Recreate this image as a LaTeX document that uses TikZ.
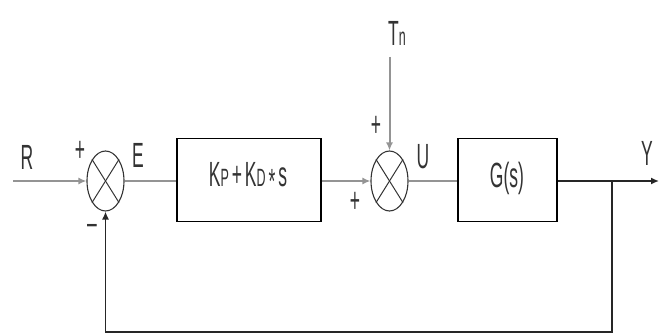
\documentclass[tikz,border=0pt]{standalone}
\usepackage{fontspec}
\usepackage{graphicx}
\setmainfont{Liberation Sans}
\usetikzlibrary{shapes.geometric,arrows.meta,calc}
\newcommand{\lbl}[1]{\scalebox{0.5}[1]{\fontsize{35}{35}\selectfont #1}}
\newcommand{\sml}[1]{{\fontsize{25}{25}\selectfont #1}}
\tikzset{
  sig/.style={line width=2pt,draw=black!42},
  fb/.style={line width=1.5pt,draw=black!85},
  tip/.style={-{Latex[length=8pt,width=7pt]}},
  sumnode/.style={ellipse,draw=black!80,line width=1.1pt,minimum width=37pt,minimum height=60pt,inner sep=0pt},
  blk/.style={rectangle,draw=black,line width=1.5pt,inner sep=0pt},
  txt/.style={text=black!80,inner sep=0pt},
  crossline/.style={draw=black!80,line width=1pt}
}
\begin{document}
\begin{tikzpicture}[x=1pt,y=-1pt]
\useasboundingbox (0,0) rectangle (659,334);
% summing junctions
\node[sumnode] (s1) at (105.5,181) {};
\node[sumnode] (s2) at (389.5,181) {};
\foreach \s in {s1,s2}{
  \draw[crossline] (\s.58) -- (\s.238);
  \draw[crossline] (\s.122) -- (\s.302);
}
% blocks
\node[blk,minimum width=144pt,minimum height=83pt] (b1) at (249,180) {};
\node[blk,minimum width=99pt,minimum height=83pt] (b2) at (507.5,180) {};
\node[txt] (t1) at (248,178) {\lbl{K\sml{P}\,+\,K\sml{D}\,\raisebox{-0.22em}{*}\,s}};
\node[txt] (t2) at (507,178) {\lbl{G(s)}};
% labels
\node[txt] (lR) at (27,157) {\lbl{R}};
\node[txt] (lE) at (138,155) {\lbl{E}};
\node[txt] (lU) at (423,157) {\lbl{U}};
\node[txt] (lY) at (647,153) {\lbl{Y}};
\node[txt] (lT) at (397,33) {\lbl{T\sml{n}}};
\node[txt] (p1) at (80,151) {\lbl{+}};
\node[txt] (m1) at (92,229) {\lbl{\textendash}};
\node[txt] (p2) at (376,126) {\lbl{+}};
\node[txt] (p3) at (355,202) {\lbl{+}};
% coordinates
\coordinate (rin) at (13,181);
\coordinate (tin) at (389.5,57);
\coordinate (br) at (612,181);
\coordinate (yout) at (659,181);
\coordinate (fbr) at (612,332);
\coordinate (fbl) at (105.5,332);
% signal lines
\draw[sig,tip] (rin) -- (s1.west);
\draw[sig] (s1.east) -- (b1.west |- s1.east);
\draw[sig,tip] (b1.east |- s2.west) -- (s2.west);
\draw[sig,tip] (tin) -- (s2.north);
\draw[sig] (s2.east) -- (b2.west |- s2.east);
\draw[fb,tip] (b2.east |- br) -- (yout);
\draw[fb,tip] (br) -- (fbr) -- (fbl) -- (s1.south);
\end{tikzpicture}
\end{document}
